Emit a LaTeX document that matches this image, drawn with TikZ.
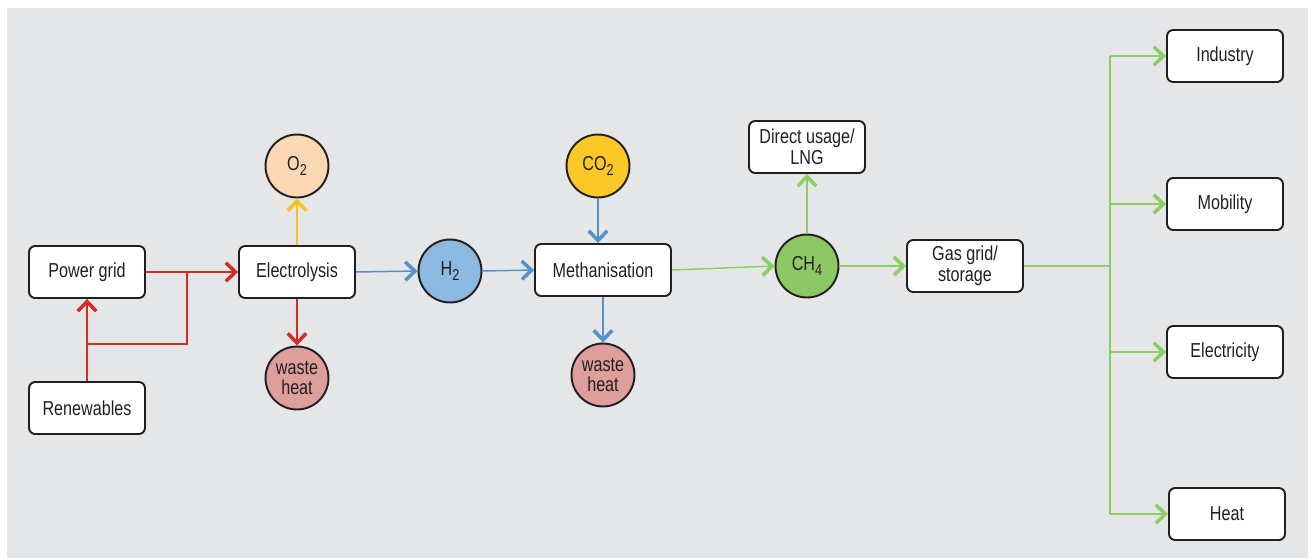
\documentclass[tikz,border=0pt]{standalone}
\usepackage{fontspec}
\setmainfont{Liberation Sans}[FakeStretch=0.8]
\usetikzlibrary{arrows.meta, positioning}
\definecolor{bggray}{RGB}{229, 230, 232}
\definecolor{inkdark}{RGB}{35, 31, 32}
\definecolor{flowred}{RGB}{213, 43, 38}
\definecolor{flowblue}{RGB}{86, 145, 200}
\definecolor{flowyellow}{RGB}{250, 195, 30}
\definecolor{flowgreen}{RGB}{140, 205, 100}
\definecolor{o2peach}{RGB}{252, 215, 180}
\definecolor{heatred}{RGB}{222, 158, 155}
\definecolor{h2blue}{RGB}{140, 185, 225}
\definecolor{co2yellow}{RGB}{252, 200, 40}
\definecolor{ch4green}{RGB}{140, 200, 100}
\newcommand{\chemsub}[1]{\raisebox{-0.45ex}{\fontsize{9}{9}\selectfont #1}}

\begin{document}
\begin{tikzpicture}[x=0.02cm, y=-0.02cm,
  box/.style={draw=inkdark, line width=1.1pt, rounded corners=3.5pt, fill=white,
    minimum width=2.32cm, minimum height=1.04cm, align=center, text=inkdark,
    font=\fontsize{11.5}{12}\selectfont},
  blob/.style={circle, draw=inkdark, line width=1.1pt, minimum size=1.26cm,
    inner sep=0pt, align=center, text=inkdark, font=\fontsize{11.5}{11.5}\selectfont},
  flow/.style={line width=0.85pt, -{Straight Barb[length=5.5pt, width=10.5pt, line width=2pt]}},
  plain/.style={line width=0.85pt}
]
  \useasboundingbox (0,0) rectangle (1313,558);
  \fill[bggray] (7,8) rectangle (1308,558);

  % input side
  \node[box] (pg) at (87,272) {Power grid};
  \node[box] (ren) at (87,408) {Renewables};
  \node[box] (el) at (297,272) {Electrolysis};
  \node[blob, fill=o2peach] (o2) at (297,166) {O\chemsub{2}};
  \node[blob, fill=heatred] (wh1) at (297,378) {waste\\heat};
  \node[blob, fill=h2blue] (h2) at (450,271) {H\chemsub{2}};

  % methanisation
  \node[box, minimum width=2.72cm] (meth) at (603,270) {Methanisation};
  \node[blob, fill=co2yellow] (co2) at (598,166) {CO\chemsub{2}};
  \node[blob, fill=heatred] (wh2) at (603,375) {waste\\heat};
  \node[box] (lng) at (807,147) {Direct usage/\\LNG};
  \node[blob, fill=ch4green] (ch4) at (807,266) {CH\chemsub{4}};
  \node[box] (gas) at (965,266) {Gas grid/\\storage};

  % end uses
  \node[box] (ind) at (1225,56) {Industry};
  \node[box] (mob) at (1225,204) {Mobility};
  \node[box] (elec) at (1225,352) {Electricity};
  \node[box] (heat) at (1227,514) {Heat};

  \coordinate (rjoin) at (187,344);
  \coordinate (trunk) at (1110,266);

  % power
  \draw[flow, flowred] (pg.east) -- (el.west);
  \draw[flow, flowred] (ren.north) -- (pg.south);
  \draw[plain, flowred] (ren.north |- rjoin) -- (rjoin) -- (rjoin |- pg.east);
  \draw[flow, flowred] (el.south) -- (wh1.north);
  \draw[flow, flowyellow] (el.north) -- (o2.south);

  % hydrogen
  \draw[flow, flowblue] (el.east) -- (h2.west);
  \draw[flow, flowblue] (h2.east) -- (meth.west);
  \draw[flow, flowblue] (co2.south) -- (co2.south |- meth.north);
  \draw[flow, flowblue] (meth.south) -- (wh2.north);

  % methane
  \draw[flow, flowgreen] (meth.east) -- (ch4.west);
  \draw[flow, flowgreen] (ch4.north) -- (lng.south);
  \draw[flow, flowgreen] (ch4.east) -- (gas.west);
  \draw[plain, flowgreen] (gas.east) -- (trunk);
  \draw[plain, flowgreen] (trunk |- ind.west) -- (trunk |- heat.west);
  \foreach \use in {ind, mob, elec, heat}
    \draw[flow, flowgreen] (trunk |- \use.west) -- (\use.west);
\end{tikzpicture}
\end{document}
